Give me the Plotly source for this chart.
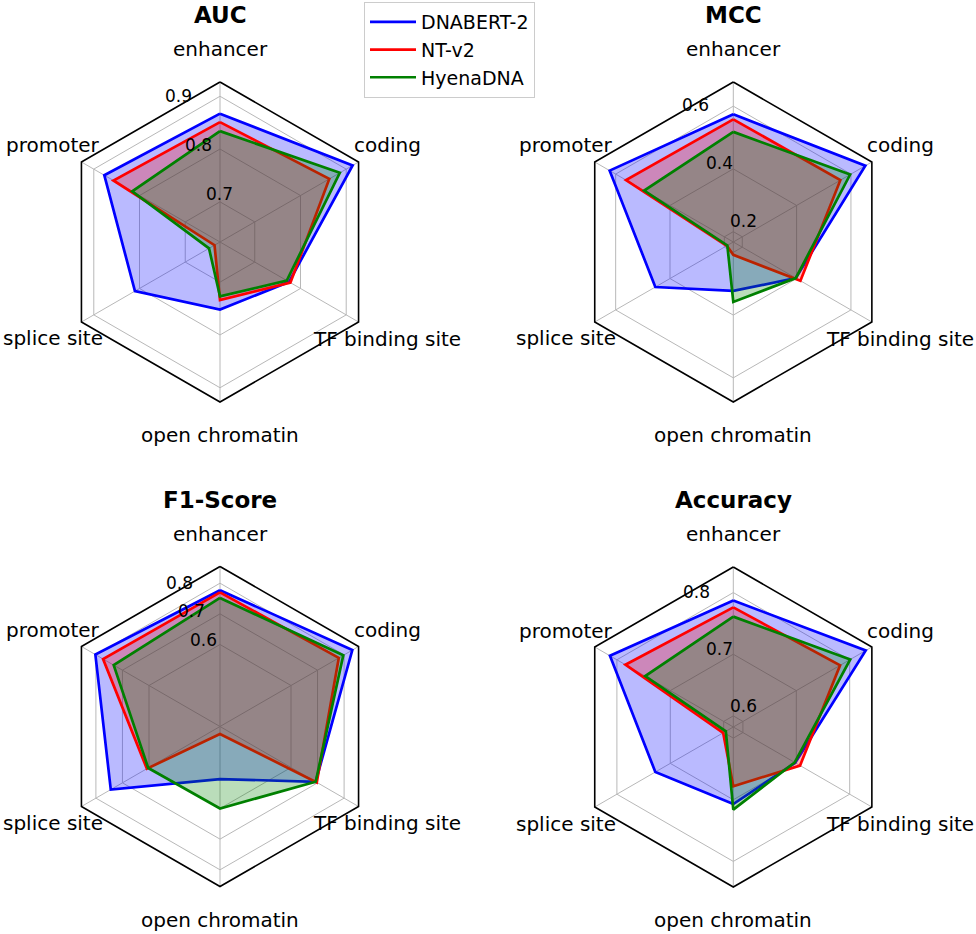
import math
import plotly.graph_objects as go

# ---------------- data ----------------
categories = ["enhancer", "promoter", "splice site", "open chromatin", "TF binding site", "coding"]
models = ["DNABERT-2", "NT-v2", "HyenaDNA"]
line_colors = ["#0000ff", "#ff0000", "#008000"]
fill_colors = ["rgba(0,0,255,0.27)", "rgba(255,0,0,0.27)", "rgba(0,128,0,0.27)"]

auc_dnabert2 = [0.867, 0.877, 0.810, 0.752, 0.775, 0.914]
auc_ntv2 = [0.851, 0.857, 0.636, 0.734, 0.778, 0.863]
auc_hyenadna = [0.834, 0.816, 0.648, 0.727, 0.770, 0.886]

mcc_dnabert2 = [0.574, 0.622, 0.454, 0.323, 0.397, 0.653]
mcc_ntv2 = [0.558, 0.562, 0.191, 0.208, 0.414, 0.561]
mcc_hyenadna = [0.518, 0.495, 0.189, 0.358, 0.397, 0.597]

f1_dnabert2 = [0.777, 0.802, 0.744, 0.504, 0.693, 0.831]
f1_ntv2 = [0.770, 0.773, 0.608, 0.357, 0.697, 0.780]
f1_hyenadna = [0.752, 0.733, 0.603, 0.600, 0.693, 0.797]

acc_dnabert2 = [0.787, 0.813, 0.728, 0.707, 0.698, 0.830]
acc_ntv2 = [0.776, 0.784, 0.601, 0.678, 0.707, 0.782]
acc_hyenadna = [0.761, 0.747, 0.596, 0.716, 0.697, 0.801]

titles = ["AUC", "MCC", "F1-Score", "Accuracy"]
radial_ranges = [[0.624, 0.927], [0.167, 0.677], [0.3325, 0.8545], [0.582, 0.8415]]
radial_tickvals = [[0.7, 0.8, 0.9], [0.2, 0.4, 0.6], [0.6, 0.7, 0.8], [0.6, 0.7, 0.8]]
radial_ticktext = [["0.7", "0.8", "0.9"], ["0.2", "0.4", "0.6"], ["0.6", "0.7", "0.8"], ["0.6", "0.7", "0.8"]]

panel_values = [
    [auc_dnabert2, auc_ntv2, auc_hyenadna],
    [mcc_dnabert2, mcc_ntv2, mcc_hyenadna],
    [f1_dnabert2, f1_ntv2, f1_hyenadna],
    [acc_dnabert2, acc_ntv2, acc_hyenadna],
]

# ---------------- layout geometry ----------------
W, H = 976, 934
R = 160
centers = [(220, 242), (733.3, 242), (220, 726.5), (733.3, 727)]
FONT = "DejaVu Sans"

fig = go.Figure()
annotations = []
layout_polars = {}

for p in range(4):
    pid = "polar" if p == 0 else f"polar{p + 1}"
    cx, cy = centers[p]
    layout_polars[pid] = dict(
        domain=dict(x=[(cx - R) / W, (cx + R) / W], y=[1 - (cy + R) / H, 1 - (cy - R) / H]),
        gridshape="linear",
        bgcolor="white",
        angularaxis=dict(
            type="category",
            categoryorder="array",
            categoryarray=categories,
            rotation=90,
            direction="counterclockwise",
            showticklabels=False,
            ticks="",
            showline=True,
            linecolor="black",
            linewidth=1.6,
            showgrid=True,
            gridcolor="#b8b8b8",
            gridwidth=1.3,
        ),
        radialaxis=dict(
            range=radial_ranges[p],
            tickvals=radial_tickvals[p],
            showticklabels=False,
            ticks="",
            showline=False,
            showgrid=True,
            gridcolor="#b8b8b8",
            gridwidth=1.3,
        ),
    )
    subplot = "polar" if p == 0 else f"polar{p + 1}"
    for m in range(3):
        vals = panel_values[p][m]
        r = list(vals) + [vals[0]]
        th = categories + [categories[0]]
        fig.add_trace(go.Scatterpolar(
            r=r, theta=th, subplot=subplot, mode="lines",
            fill="toself", fillcolor=fill_colors[m],
            line=dict(width=0, color=fill_colors[m]),
            showlegend=False, hoverinfo="skip",
        ))
        fig.add_trace(go.Scatterpolar(
            r=r, theta=th, subplot=subplot, mode="lines",
            line=dict(width=2.7, color=line_colors[m]),
            name=models[m], legendgroup=models[m], showlegend=(p == 0),
        ))

    # title
    annotations.append(dict(
        x=cx / W, y=1 - (cy - 227) / H, xref="paper", yref="paper",
        text=f"<b>{titles[p]}</b>", showarrow=False,
        xanchor="center", yanchor="middle",
        font=dict(family=FONT, size=23, color="black"),
    ))
    # category labels
    for i, cat in enumerate(categories):
        ang = math.radians(90 + 60 * i)
        lx = cx + 193 * math.cos(ang)
        ly = cy - 193 * math.sin(ang)
        annotations.append(dict(
            x=lx / W, y=1 - ly / H, xref="paper", yref="paper",
            text=cat, showarrow=False, xanchor="center", yanchor="middle",
            font=dict(family=FONT, size=20, color="black"),
        ))
    # radial tick labels
    rmin, rmax = radial_ranges[p]
    ang = math.radians(112.5)
    for v, t in zip(radial_tickvals[p], radial_ticktext[p]):
        rp = R * (v - rmin) / (rmax - rmin)
        tx = cx + rp * math.cos(ang)
        ty = cy - rp * math.sin(ang)
        annotations.append(dict(
            x=tx / W, y=1 - ty / H, xref="paper", yref="paper",
            text=t, showarrow=False, xanchor="left", yanchor="bottom",
            borderpad=0,
            font=dict(family=FONT, size=17, color="black"),
        ))

fig.update_layout(
    width=W, height=H,
    margin=dict(l=0, r=0, t=0, b=0),
    paper_bgcolor="white",
    plot_bgcolor="white",
    font=dict(family=FONT, color="black"),
    annotations=annotations,
    legend=dict(
        x=364 / W, y=1 - 2 / H, xanchor="left", yanchor="top",
        bgcolor="white", bordercolor="#cccccc", borderwidth=1,
        font=dict(family=FONT, size=19, color="black"),
        tracegroupgap=0, itemwidth=46,
    ),
    **layout_polars,
)

fig.write_html("out.html", config={"displayModeBar": False},
               post_script="document.body.style.margin='0';")
